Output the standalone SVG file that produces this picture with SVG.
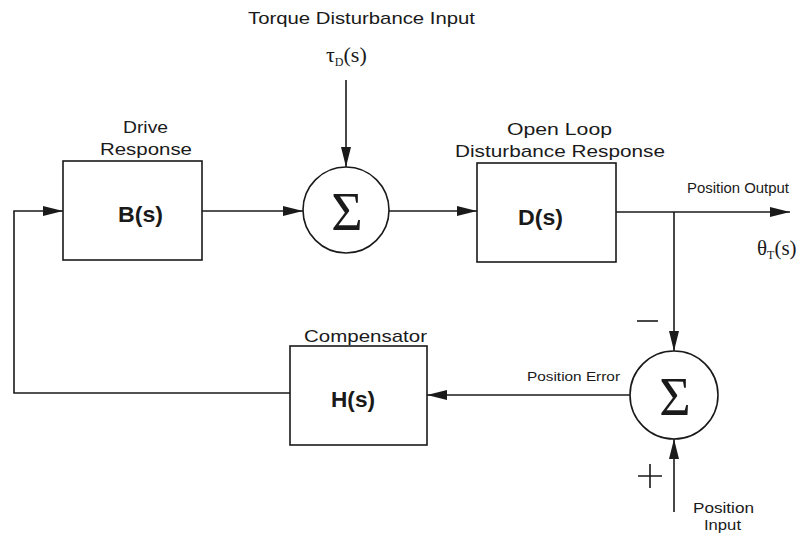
<svg xmlns="http://www.w3.org/2000/svg" width="804" height="535" viewBox="0 0 804 535">
<style>
.box{fill:none;stroke:#1a1a1a;stroke-width:1.6}
.ln{fill:none;stroke:#1a1a1a;stroke-width:1.6}
.t{font-family:"Liberation Sans",Arial,sans-serif;fill:#1a1a1a}
.b{font-family:"Liberation Sans",Arial,sans-serif;font-weight:bold;fill:#1a1a1a;font-size:22px}
.s{font-family:"Liberation Serif","Times New Roman",serif;fill:#1a1a1a}
.sig{font-family:"Liberation Serif","Times New Roman",serif;fill:#1a1a1a;font-size:54px;text-anchor:middle}
</style>
<defs>
<marker id="ah" markerWidth="20" markerHeight="10" refX="20" refY="5" orient="auto" markerUnits="userSpaceOnUse">
<path d="M0,0 L20,5 L0,10 Z" fill="#1a1a1a"/>
</marker>
</defs>
<rect width="804" height="535" fill="#ffffff"/>

<g id="labels">
<text class="t" x="248" y="24" font-size="17" textLength="227" lengthAdjust="spacingAndGlyphs">Torque Disturbance Input</text>
<text class="s" x="326" y="62" font-size="22">τ<tspan font-size="12" dy="4">D</tspan><tspan dy="-4">(s)</tspan></text>
</g>

<g id="B">
<rect class="box" x="63" y="161" width="139" height="99"/>
<text class="t" x="123" y="133" font-size="17" textLength="45" lengthAdjust="spacingAndGlyphs">Drive</text>
<text class="t" x="100" y="155" font-size="17" textLength="92" lengthAdjust="spacingAndGlyphs">Response</text>
<text class="b" x="118" y="222" textLength="45" lengthAdjust="spacingAndGlyphs">B(s)</text>
</g>

<g id="sum1">
<circle class="box" cx="346" cy="210" r="43"/>
<text class="sig" x="347" y="230">Σ</text>
</g>

<g id="D">
<rect class="box" x="477" y="163" width="139" height="99"/>
<text class="t" x="507" y="135" font-size="17" textLength="105" lengthAdjust="spacingAndGlyphs">Open Loop</text>
<text class="t" x="455" y="157" font-size="17" textLength="210" lengthAdjust="spacingAndGlyphs">Disturbance Response</text>
<text class="b" x="518" y="225" textLength="45" lengthAdjust="spacingAndGlyphs">D(s)</text>
</g>

<g id="out">
<text class="t" x="687" y="193" font-size="14" textLength="102" lengthAdjust="spacingAndGlyphs">Position Output</text>
<text class="s" x="757" y="255" font-size="21">θ<tspan font-size="12" dy="4">T</tspan><tspan dy="-4">(s)</tspan></text>
</g>

<g id="sum2">
<circle class="box" cx="674" cy="395" r="44"/>
<text class="sig" x="675" y="415">Σ</text>
<path class="ln" d="M637,321 H658" stroke-width="2"/>
<path class="ln" d="M638,476 H662 M650,464 V488" stroke-width="2"/>
<text class="t" x="693" y="513" font-size="14" textLength="61" lengthAdjust="spacingAndGlyphs">Position</text>
<text class="t" x="704" y="530" font-size="14" textLength="37" lengthAdjust="spacingAndGlyphs">Input</text>
</g>

<g id="H">
<rect class="box" x="290" y="346" width="137" height="99"/>
<text class="t" x="304" y="342" font-size="17" textLength="123" lengthAdjust="spacingAndGlyphs">Compensator</text>
<text class="b" x="331" y="407" textLength="44" lengthAdjust="spacingAndGlyphs">H(s)</text>
<text class="t" x="527" y="381" font-size="13" textLength="93" lengthAdjust="spacingAndGlyphs">Position Error</text>
</g>

<g id="connectors">
<path class="ln" d="M346,80 V167" marker-end="url(#ah)"/>
<path class="ln" d="M202,211 H303" marker-end="url(#ah)"/>
<path class="ln" d="M389,211 H477" marker-end="url(#ah)"/>
<path class="ln" d="M616,212 H790" marker-end="url(#ah)"/>
<path class="ln" d="M674,212 V351" marker-end="url(#ah)"/>
<path class="ln" d="M674,512 V439" marker-end="url(#ah)"/>
<path class="ln" d="M630,395 H427" marker-end="url(#ah)"/>
<path class="ln" d="M290,393 H14 V211 H63" marker-end="url(#ah)"/>
</g>
</svg>
